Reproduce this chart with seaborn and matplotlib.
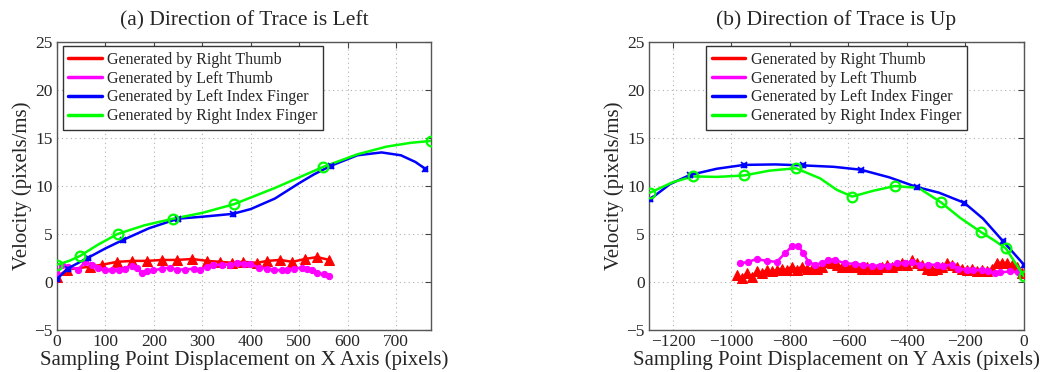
import numpy as np
import pandas as pd
import matplotlib
matplotlib.use("Agg")
import matplotlib.pyplot as plt
from matplotlib.lines import Line2D
import seaborn as sns

# ---------------- data: (a) direction left ----------------
a_green_mx = [0, 47, 125, 240, 365, 550, 772]
a_green_my = [1.8, 2.7, 5.0, 6.6, 8.1, 12.0, 14.7]
a_green_cx = [0, 25, 47, 85, 125, 180, 240, 300, 365, 450, 550, 620, 680, 730, 772]
a_green_cy = [1.8, 2.2, 2.7, 3.9, 5.0, 5.9, 6.6, 7.2, 8.1, 9.8, 12.0, 13.3, 14.1, 14.5, 14.7]

a_blue_mx = [0, 22, 63, 137, 250, 363, 565, 760]
a_blue_my = [0.3, 1.4, 2.5, 4.4, 6.6, 7.1, 12.1, 11.8]
a_blue_cx = [0, 22, 63, 100, 137, 190, 250, 300, 363, 400, 450, 500, 530, 565, 620, 670, 710, 740, 760]
a_blue_cy = [0.3, 1.4, 2.5, 3.5, 4.4, 5.6, 6.6, 6.8, 7.1, 7.6, 8.7, 10.3, 11.2, 12.1, 13.2, 13.5, 13.2, 12.5, 11.8]

a_red_x = [0, 21, 68, 93, 124, 155, 186, 217, 248, 279, 310, 337, 362, 384, 413, 434, 461, 486, 512, 537, 562]
a_red_y = [0.5, 1.3, 1.6, 1.8, 2.1, 2.2, 2.2, 2.3, 2.3, 2.4, 2.2, 2.1, 2.0, 2.1, 2.0, 2.2, 2.3, 2.1, 2.4, 2.6, 2.3]

a_mag_x = [0, 10, 23, 44, 58, 72, 85, 99, 113, 127, 141, 155, 165, 175, 186, 199, 216, 233, 247, 264,
           282, 296, 309, 323, 341, 358, 372, 386, 399, 416, 434, 448, 465, 475, 489, 506, 516, 527, 537, 551, 561]
a_mag_y = [0.8, 1.8, 1.6, 1.3, 2.1, 1.8, 1.5, 1.3, 1.3, 1.3, 1.4, 1.7, 1.5, 0.9, 1.1, 1.2, 1.4, 1.5, 1.3, 1.3,
           1.4, 1.3, 1.6, 1.8, 1.8, 1.8, 2.0, 1.9, 1.9, 1.5, 1.4, 1.3, 1.2, 1.3, 1.4, 1.5, 1.4, 1.2, 0.9, 0.8, 0.6]

# ---------------- data: (b) direction up ----------------
b_blue_mx = [-1279, -1142, -957, -757, -558, -367, -204, -73, 0]
b_blue_my = [8.6, 11.15, 12.2, 12.15, 11.7, 9.9, 8.25, 4.3, 1.8]
b_blue_cx = [-1279, -1210, -1142, -1050, -957, -850, -757, -650, -558, -460, -367, -290, -204, -140, -73, 0]
b_blue_cy = [8.6, 10.2, 11.15, 11.8, 12.2, 12.25, 12.15, 12.0, 11.7, 10.9, 9.9, 9.3, 8.25, 6.6, 4.3, 1.8]

b_green_mx = [-1279, -1131, -957, -780, -587, -441, -284, -147, -62, 0]
b_green_my = [9.3, 11.0, 11.1, 11.85, 8.9, 10.0, 8.3, 5.2, 3.5, 0.6]
b_green_cx = [-1279, -1200, -1131, -1050, -957, -870, -780, -697, -640, -587, -516, -441, -360, -284, -219, -147, -100, -62, 0]
b_green_cy = [9.3, 10.4, 11.0, 10.95, 11.1, 11.6, 11.85, 10.8, 9.6, 8.9, 9.5, 10.0, 9.8, 8.3, 6.7, 5.2, 4.3, 3.5, 0.6]

b_red_x = [-982, -965, -948, -931, -913, -896, -879, -862, -845, -828, -811, -794, -777, -759, -742, -725,
           -708, -691, -674, -657, -640, -623, -606, -588, -571, -554, -537, -520, -503, -486, -469, -452,
           -435, -417, -400, -383, -366, -349, -332, -315, -298, -281, -264, -246, -229, -212, -195, -178,
           -161, -144, -127, -110, -93, -75, -58, -41, -24, -7]
b_red_y = [0.7, 0.4, 0.9, 0.55, 1.1, 0.9, 1.25, 1.1, 1.25, 1.4, 1.25, 1.6, 1.3, 1.6, 1.4, 1.4,
           1.4, 1.6, 2.1, 2.0, 1.8, 1.6, 1.6, 1.6, 1.6, 1.4, 1.6, 1.4, 1.4, 1.6, 1.8, 1.6,
           1.8, 2.0, 1.8, 2.3, 2.0, 1.8, 1.4, 1.25, 1.4, 1.6, 2.0, 1.8, 1.6, 1.4, 1.25, 1.4,
           1.1, 1.25, 1.1, 1.4, 2.0, 2.0, 2.0, 1.8, 1.6, 0.9]

b_mag_x = [-971, -942, -914, -880, -845, -817, -794, -772, -754, -737, -715, -692, -669, -646, -612, -578,
           -549, -521, -492, -464, -435, -407, -384, -356, -327, -298, -276, -247, -225, -196, -173, -145,
           -122, -99, -82, -48, -19]
b_mag_y = [1.95, 2.1, 2.4, 2.2, 2.1, 3.0, 3.7, 3.8, 3.0, 2.1, 1.8, 1.95, 2.3, 2.3, 1.95, 1.9,
           1.8, 1.7, 1.7, 1.7, 1.95, 1.95, 2.1, 1.8, 1.8, 1.8, 1.7, 1.8, 1.4, 1.25, 1.2, 1.3,
           1.1, 0.9, 1.0, 1.1, 1.0]

labels = ["Generated by Right Thumb", "Generated by Left Thumb",
          "Generated by Left Index Finger", "Generated by Right Index Finger"]
titles = ["(a) Direction of Trace is Left", "(b) Direction of Trace is Up"]
xlabels = ["Sampling Point Displacement on X Axis (pixels)",
           "Sampling Point Displacement on Y Axis (pixels)"]
ylabel = "Velocity (pixels/ms)"

RED, MAG, BLUE, GREEN = "#ff0000", "#ff00ff", "#0000ff", "#00ff00"

sns.set_style("white")
plt.rcParams["font.family"] = ["Liberation Serif", "DejaVu Serif"]
plt.rcParams["axes.unicode_minus"] = True

fig = plt.figure(figsize=(10.4, 3.72), dpi=100)
axA = fig.add_axes([0.0548, 0.1129, 0.3596, 0.7741])
axB = fig.add_axes([0.624, 0.1129, 0.3606, 0.7741])


def draw(ax, red, mag, blue_c, blue_m, green_c, green_m):
    lw = 1.8
    sns.lineplot(x=red[0], y=red[1], ax=ax, color=RED, lw=lw, sort=False, estimator=None,
                 marker="^", markersize=7.5, markeredgecolor=RED, markerfacecolor=RED, zorder=3)
    sns.lineplot(x=mag[0], y=mag[1], ax=ax, color=MAG, lw=lw, sort=False, estimator=None,
                 marker="o", markersize=4.5, markeredgecolor=MAG, markerfacecolor=MAG, zorder=3)
    sns.lineplot(x=blue_c[0], y=blue_c[1], ax=ax, color=BLUE, lw=lw, sort=False, estimator=None, zorder=4)
    ax.plot(blue_m[0], blue_m[1], ls="none", marker="s", ms=3.5, color=BLUE, zorder=5)
    ax.plot(blue_m[0], blue_m[1], ls="none", marker="x", ms=5, mew=1.2, color=BLUE, zorder=5)
    sns.lineplot(x=green_c[0], y=green_c[1], ax=ax, color=GREEN, lw=lw, sort=False, estimator=None, zorder=4)
    ax.plot(green_m[0], green_m[1], ls="none", marker="o", ms=7, mew=1.6,
            markeredgecolor=GREEN, markerfacecolor="none", zorder=5)


draw(axA, (a_red_x, a_red_y), (a_mag_x, a_mag_y), (a_blue_cx, a_blue_cy), (a_blue_mx, a_blue_my),
     (a_green_cx, a_green_cy), (a_green_mx, a_green_my))
draw(axB, (b_red_x, b_red_y), (b_mag_x, b_mag_y), (b_blue_cx, b_blue_cy), (b_blue_mx, b_blue_my),
     (b_green_cx, b_green_cy), (b_green_mx, b_green_my))

axA.set_xlim(0, 772)
axA.set_xticks([0, 100, 200, 300, 400, 500, 600, 700])
axB.set_xlim(-1282, 0)
axB.set_xticks([-1200, -1000, -800, -600, -400, -200, 0])

handles = [Line2D([], [], color=c, lw=2.5) for c in (RED, MAG, BLUE, GREEN)]

for i, ax in enumerate((axA, axB)):
    ax.set_ylim(-5, 25)
    ax.set_yticks([-5, 0, 5, 10, 15, 20, 25])
    ax.grid(True, color="#b0b0b0", ls=(0, (1, 3)), lw=0.8)
    ax.set_axisbelow(True)
    ax.tick_params(direction="in", top=True, right=True, length=4, labelsize=12.5,
                   color="#444444", pad=3)
    for s in ax.spines.values():
        s.set_color("#555555")
        s.set_linewidth(1.0)
    ax.set_title(titles[i], fontsize=15.5, pad=12)
    ax.set_xlabel(xlabels[i], fontsize=15, labelpad=0)
    ax.set_ylabel(ylabel, fontsize=15, labelpad=2)
    if i == 0:
        leg = ax.legend(handles, labels, loc="upper left", bbox_to_anchor=(0.015, 0.985),
                        borderaxespad=0, fontsize=11.5, handlelength=2.1, handletextpad=0.35,
                        labelspacing=0.17, borderpad=0.35, fancybox=False, framealpha=1)
    else:
        leg = ax.legend(handles, labels, loc="upper center", bbox_to_anchor=(0.5, 0.985),
                        borderaxespad=0, fontsize=11.5, handlelength=2.1, handletextpad=0.35,
                        labelspacing=0.17, borderpad=0.35, fancybox=False, framealpha=1)
    leg.get_frame().set_edgecolor("#333333")
    leg.get_frame().set_linewidth(1.0)

fig.savefig("out.png", dpi=100)
